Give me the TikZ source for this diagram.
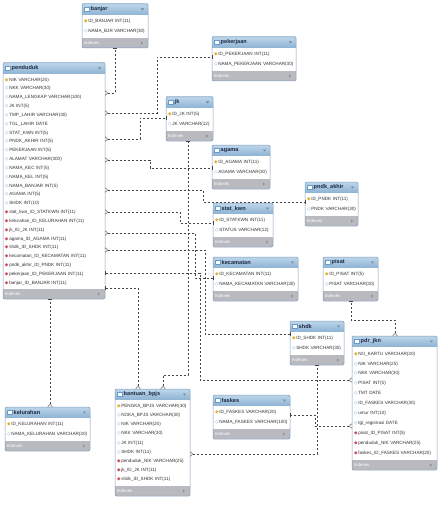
\documentclass[tikz,border=0pt]{standalone}
\usepackage{fontspec}
\setmainfont{Liberation Sans}
\newfontfamily\symfont{DejaVu Sans}
\usepackage{xcolor}
\usepackage{tikz}
\usetikzlibrary{positioning,fit,arrows.meta}
\definecolor{wbhead}{RGB}{140,178,210}
\definecolor{wbheadtop}{RGB}{190,214,234}
\definecolor{wbframe}{RGB}{128,160,192}
\definecolor{wbfoot}{RGB}{184,186,192}
\definecolor{wbtext}{RGB}{28,40,64}
\definecolor{wbline}{RGB}{70,70,70}
\definecolor{keyyellow}{RGB}{226,178,28}
\definecolor{colblue}{RGB}{105,155,205}
\definecolor{fkred}{RGB}{205,72,88}

\newcommand\pk{{\symfont\textcolor{keyyellow}{◆}}\,}
\newcommand\co{{\symfont\textcolor{colblue}{◇}}\,}
\newcommand\fk{{\symfont\textcolor{fkred}{◆}}\,}
\newcommand\ticon{{\setlength\fboxsep{0pt}\setlength\fboxrule{0.4pt}%
  \fcolorbox{colblue}{white}{\rule{0pt}{3.5pt}\rule{5pt}{0pt}}}\,}

\begin{document}
\begin{tikzpicture}[x=1pt, y=-1pt,
    tblhead/.style={top color=wbheadtop, bottom color=wbhead, anchor=north west,
                    text width=#1, inner xsep=2pt, inner ysep=0pt, outer sep=0pt,
                    minimum height=11pt, align=left, text=wbtext,
                    font=\bfseries\fontsize{5.6}{6}\selectfont,
                    path picture={\fill[wbtext!60]
                      ([xshift=-7pt,yshift=1pt]path picture bounding box.east)
                      -- ++(3pt,0) -- ++(-1.5pt,-2pt) -- cycle;}},
    tblbody/.style={fill=white, text width=#1, inner xsep=2pt, inner ysep=0pt,
                    outer sep=0pt, align=left, text=black!80},
    rowstep/.style={font=\fontsize{4.6}{#1}\selectfont},
    tblfoot/.style={fill=wbfoot, text width=#1, inner xsep=2pt, inner ysep=0pt,
                    outer sep=0pt, minimum height=10pt, align=left, text=white,
                    font=\fontsize{4.4}{5}\selectfont,
                    path picture={\fill[black!45]
                      ([xshift=-7pt,yshift=1.5pt]path picture bounding box.east)
                      -- ++(0,-3pt) -- ++(2pt,1.5pt) -- cycle;}},
    tblframe/.style={draw=wbframe, line width=0.5pt, rounded corners=1.5pt, inner sep=0pt},
    rel/.style={draw=wbline, line width=0.4pt, dash pattern=on 2.5pt off 1.5pt,
                {Straight Barb[reversed,length=2.5pt,width=4.5pt]}-{Bar[width=4.5pt]}},
    node distance=0pt]
  \useasboundingbox[fill=white] (0,0) rectangle (441,508);

  % banjar
  \node[tblhead=62pt] (ban-h) at (82,4) {\ticon banjar};
  \node[tblbody=62pt, rowstep=10, minimum height=23pt, below=of ban-h] (ban-b)
       {\pk ID\_BANJAR INT(11)\\\co NAMA\_BJR VARCHAR(30)};
  \node[tblfoot=62pt, below=of ban-b] (ban-f) {Indexes};
  \node[tblframe, fit=(ban-h)(ban-f)] {};

  % pekerjaan
  \node[tblhead=80pt] (pkj-h) at (212,37) {\ticon pekerjaan};
  \node[tblbody=80pt, rowstep=10, minimum height=23pt, below=of pkj-h] (pkj-b)
       {\pk ID\_PEKERJAAN INT(11)\\\co NAMA\_PEKERJAAN VARCHAR(30)};
  \node[tblfoot=80pt, below=of pkj-b] (pkj-f) {Indexes};
  \node[tblframe, fit=(pkj-h)(pkj-f)] {};

  % penduduk
  \node[tblhead=98pt] (pen-h) at (3,63) {\ticon penduduk};
  \node[tblbody=98pt, rowstep=8.83, minimum height=215pt, below=of pen-h] (pen-b)
       {\pk NIK VARCHAR(25)\\\co NKK VARCHAR(30)\\\co NAMA\_LENGKAP VARCHAR(100)\\
        \co JK INT(5)\\\co TMP\_LAHIR VARCHAR(30)\\\co TGL\_LAHIR DATE\\
        \co STAT\_KWN INT(5)\\\co PNDK\_AKHIR INT(5)\\\co PEKERJAAN INT(5)\\
        \co ALAMAT VARCHAR(300)\\\co NAMA\_KEC INT(5)\\\co NAMA\_KEL INT(5)\\
        \co NAMA\_BANJAR INT(5)\\\co AGAMA INT(5)\\\co SHDK INT(10)\\
        \fk stat\_kwn\_ID\_STATKWN INT(11)\\\fk kelurahan\_ID\_KELURAHAN INT(11)\\
        \fk jk\_ID\_JK INT(11)\\\fk agama\_ID\_AGAMA INT(11)\\\fk shdk\_ID\_SHDK INT(11)\\
        \fk kecamatan\_ID\_KECAMATAN INT(11)\\\fk pndk\_akhir\_ID\_PNDK INT(11)\\
        \fk pekerjaan\_ID\_PEKERJAAN INT(11)\\\fk banjar\_ID\_BANJAR INT(11)};
  \node[tblfoot=98pt, below=of pen-b] (pen-f) {Indexes};
  \node[tblframe, fit=(pen-h)(pen-f)] {};

  % jk
  \node[tblhead=43pt] (jk-h) at (166,97) {\ticon jk};
  \node[tblbody=43pt, rowstep=10, minimum height=23pt, below=of jk-h] (jk-b)
       {\pk ID\_JK INT(5)\\\co JK VARCHAR(12)};
  \node[tblfoot=43pt, below=of jk-b] (jk-f) {Indexes};
  \node[tblframe, fit=(jk-h)(jk-f)] {};

  % agama
  \node[tblhead=54pt] (agm-h) at (212,145) {\ticon agama};
  \node[tblbody=54pt, rowstep=10, minimum height=23pt, below=of agm-h] (agm-b)
       {\pk ID\_AGAMA INT(11)\\\co AGAMA VARCHAR(30)};
  \node[tblfoot=54pt, below=of agm-b] (agm-f) {Indexes};
  \node[tblframe, fit=(agm-h)(agm-f)] {};

  % pndk_akhir
  \node[tblhead=49pt] (pnd-h) at (305,182) {\ticon pndk\_akhir};
  \node[tblbody=49pt, rowstep=10, minimum height=23pt, below=of pnd-h] (pnd-b)
       {\pk ID\_PNDK INT(11)\\\co PNDK VARCHAR(30)};
  \node[tblfoot=49pt, below=of pnd-b] (pnd-f) {Indexes};
  \node[tblframe, fit=(pnd-h)(pnd-f)] {};

  % stat_kwn
  \node[tblhead=56pt] (stk-h) at (213,203) {\ticon stat\_kwn};
  \node[tblbody=56pt, rowstep=10, minimum height=23pt, below=of stk-h] (stk-b)
       {\pk ID\_STATKWN INT(11)\\\co STATUS VARCHAR(12)};
  \node[tblfoot=56pt, below=of stk-b] (stk-f) {Indexes};
  \node[tblframe, fit=(stk-h)(stk-f)] {};

  % kecamatan
  \node[tblhead=81pt] (kec-h) at (213,257) {\ticon kecamatan};
  \node[tblbody=81pt, rowstep=10, minimum height=23pt, below=of kec-h] (kec-b)
       {\pk ID\_KECAMATAN INT(11)\\\co NAMA\_KECAMATAN VARCHAR(30)};
  \node[tblfoot=81pt, below=of kec-b] (kec-f) {Indexes};
  \node[tblframe, fit=(kec-h)(kec-f)] {};

  % pisat
  \node[tblhead=51pt] (pis-h) at (323,257) {\ticon pisat};
  \node[tblbody=51pt, rowstep=10, minimum height=23pt, below=of pis-h] (pis-b)
       {\pk ID\_PISAT INT(5)\\\co PISAT VARCHAR(30)};
  \node[tblfoot=51pt, below=of pis-b] (pis-f) {Indexes};
  \node[tblframe, fit=(pis-h)(pis-f)] {};

  % shdk
  \node[tblhead=50pt] (shd-h) at (290,321) {\ticon shdk};
  \node[tblbody=50pt, rowstep=10, minimum height=23pt, below=of shd-h] (shd-b)
       {\pk ID\_SHDK INT(11)\\\co SHDK VARCHAR(30)};
  \node[tblfoot=50pt, below=of shd-b] (shd-f) {Indexes};
  \node[tblframe, fit=(shd-h)(shd-f)] {};

  % pdr_jkn
  \node[tblhead=81pt] (jkn-h) at (352,336) {\ticon pdr\_jkn};
  \node[tblbody=81pt, rowstep=9.9, minimum height=113pt, below=of jkn-h] (jkn-b)
       {\pk NO\_KARTU VARCHAR(30)\\\co NIK VARCHAR(25)\\\co NKK VARCHAR(30)\\
        \co PISAT INT(5)\\\co TMT DATE\\\co ID\_FASKES VARCHAR(30)\\\co umur INT(10)\\
        \co tgl\_registrasi DATE\\\fk pisat\_ID\_PISAT INT(5)\\
        \fk penduduk\_NIK VARCHAR(25)\\\fk faskes\_ID\_FASKES VARCHAR(20)};
  \node[tblfoot=81pt, below=of jkn-b] (jkn-f) {Indexes};
  \node[tblframe, fit=(jkn-h)(jkn-f)] {};

  % bantuan_bpjs
  \node[tblhead=71pt] (bnt-h) at (115,389) {\ticon bantuan\_bpjs};
  \node[tblbody=71pt, rowstep=9.2, minimum height=86pt, below=of bnt-h] (bnt-b)
       {\pk PENGKA\_BPJS VARCHAR(30)\\\co NOKA\_BPJS VARCHAR(30)\\\co NIK VARCHAR(25)\\
        \co NKK VARCHAR(30)\\\co JK INT(11)\\\co SHDK INT(11)\\
        \fk penduduk\_NIK VARCHAR(25)\\\fk jk\_ID\_JK INT(11)\\\fk shdk\_ID\_SHDK INT(11)};
  \node[tblfoot=71pt, below=of bnt-b] (bnt-f) {Indexes};
  \node[tblframe, fit=(bnt-h)(bnt-f)] {};

  % kelurahan
  \node[tblhead=81pt] (kel-h) at (5,407) {\ticon kelurahan};
  \node[tblbody=81pt, rowstep=10, minimum height=23pt, below=of kel-h] (kel-b)
       {\pk ID\_KELURAHAN INT(11)\\\co NAMA\_KELURAHAN VARCHAR(30)};
  \node[tblfoot=81pt, below=of kel-b] (kel-f) {Indexes};
  \node[tblframe, fit=(kel-h)(kel-f)] {};

  % faskes
  \node[tblhead=73pt] (fsk-h) at (213,395) {\ticon faskes};
  \node[tblbody=73pt, rowstep=10, minimum height=23pt, below=of fsk-h] (fsk-b)
       {\pk ID\_FASKES VARCHAR(20)\\\co NAMA\_FASKES VARCHAR(100)};
  \node[tblfoot=73pt, below=of fsk-b] (fsk-f) {Indexes};
  \node[tblframe, fit=(fsk-h)(fsk-f)] {};

  % relations
  \draw[rel] (pen-b.east |- 0,93) -| (ban-f.south -| 115,0);
  \draw[rel] (pen-b.east |- 0,113) -- (157,113) -- (157,57) -- (pkj-b.west |- 0,57);
  \draw[rel] (pen-b.east |- 0,139) -- (140,139) -- (140,118) -- (jk-b.west |- 0,118);
  \draw[rel] (pen-b.east |- 0,160) -- (150,160) -- (150,168) -- (agm-b.west |- 0,168);
  \draw[rel] (pen-b.east |- 0,190) -- (203,190) -- (203,202) -- (pnd-b.west |- 0,202);
  \draw[rel] (pen-b.east |- 0,212) -- (180,212) -- (180,223) -- (stk-b.west |- 0,223);
  \draw[rel] (pen-b.east |- 0,233) -- (195,233) -- (195,278) -- (kec-b.west |- 0,278);
  \draw[rel] (pen-b.east |- 0,250) -- (205,250) -- (205,334) -- (shd-b.west |- 0,334);
  \draw[rel] (kel-h.north -| 50,0) -- (pen-f.south -| 50,0);
  \draw[rel] (jkn-b.west |- 0,380) -- (200,380) -- (200,273) -- (pen-b.east |- 0,273);
  \draw[rel] (bnt-h.north -| 138,0) -- (138,288) -- (pen-b.east |- 0,288);
  \draw[rel] (bnt-h.north -| 163,0) -- (163,375) -- (188,375) -- (jk-f.south -| 188,0);
  \draw[rel] (bnt-b.east |- 0,454) -- (317,454) -- (shd-f.south -| 317,0);
  \draw[rel] (jkn-h.north -| 395,0) -- (395,320) -- (351,320) -- (pis-f.south -| 351,0);
  \draw[rel] (jkn-b.west |- 0,426) -- (315,426) -- (315,415) -- (fsk-b.east |- 0,415);
\end{tikzpicture}
\end{document}
